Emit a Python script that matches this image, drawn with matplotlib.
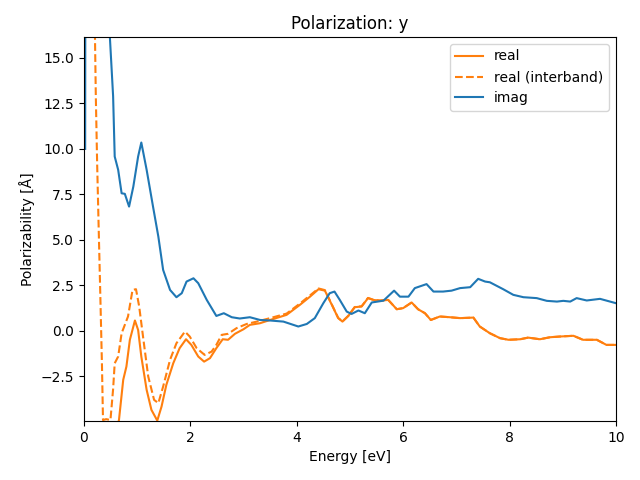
import numpy as np
import matplotlib.pyplot as plt

# values
energy_imag = [0.025, 0.035, 0.45, 0.49, 0.55, 0.58, 0.645, 0.71, 0.77, 0.85, 0.93,
               1.02, 1.08, 1.18, 1.30, 1.40, 1.49, 1.62, 1.74, 1.84, 1.93, 2.06,
               2.15, 2.31, 2.49, 2.63, 2.78, 2.93, 3.12, 3.31, 3.50, 3.75, 4.03,
               4.19, 4.34, 4.50, 4.62, 4.71, 4.81, 4.94, 5.03, 5.16, 5.28, 5.41,
               5.63, 5.83, 5.94, 6.10, 6.22, 6.44, 6.57, 6.75, 6.91, 7.07, 7.26,
               7.41, 7.54, 7.63, 7.88, 8.07, 8.26, 8.51, 8.70, 8.89, 9.01, 9.14,
               9.26, 9.45, 9.70, 10.0]
imag = [10.0, 40.0, 20.0, 16.1, 12.9, 9.58, 8.85, 7.56, 7.53, 6.83, 7.93,
        9.58, 10.35, 8.85, 6.83, 5.18, 3.35, 2.25, 1.85, 2.07, 2.71, 2.89,
        2.62, 1.70, 0.82, 0.97, 0.75, 0.68, 0.75, 0.60, 0.57, 0.51, 0.24,
        0.38, 0.70, 1.52, 2.07, 2.16, 1.70, 1.06, 0.93, 1.12, 0.97, 1.56,
        1.66, 2.21, 1.88, 1.88, 2.35, 2.57, 2.16, 2.16, 2.21, 2.35, 2.40,
        2.86, 2.71, 2.67, 2.29, 1.98, 1.85, 1.80, 1.65, 1.61, 1.65, 1.61,
        1.80, 1.67, 1.76, 1.52]

energy_real = [0.45, 0.55, 0.62, 0.66, 0.74, 0.80, 0.865, 0.96, 1.02, 1.08, 1.18,
               1.27, 1.38, 1.46, 1.55, 1.68, 1.80, 1.92, 2.02, 2.15, 2.26, 2.37,
               2.49, 2.61, 2.71, 2.84, 3.00, 3.12, 3.31, 3.50, 3.81, 4.06, 4.25,
               4.41, 4.53, 4.66, 4.78, 4.86, 4.97, 5.09, 5.22, 5.34, 5.44, 5.56,
               5.72, 5.88, 6.00, 6.16, 6.28, 6.41, 6.52, 6.69, 6.88, 7.07, 7.32,
               7.44, 7.63, 7.82, 7.98, 8.20, 8.35, 8.57, 8.76, 8.95, 9.20, 9.38,
               9.64, 9.82, 10.0]
real = [-9.0, -6.5, -5.3, -4.9, -2.69, -1.96, -0.49, 0.57, 0.05, -1.41, -3.24,
        -4.34, -4.93, -4.16, -2.97, -1.78, -0.95, -0.46, -0.77, -1.41, -1.69, -1.50,
        -0.95, -0.46, -0.49, -0.16, 0.09, 0.33, 0.42, 0.60, 0.88, 1.43, 1.88,
        2.29, 2.21, 1.43, 0.70, 0.51, 0.82, 1.30, 1.34, 1.80, 1.70, 1.66,
        1.70, 1.19, 1.25, 1.56, 1.19, 0.97, 0.60, 0.79, 0.75, 0.70, 0.73,
        0.24, -0.13, -0.40, -0.49, -0.46, -0.37, -0.46, -0.35, -0.31, -0.27, -0.49,
        -0.49, -0.77, -0.77]

energy_inter = [0.18, 0.21, 0.225, 0.25, 0.28, 0.31, 0.34, 0.36, 0.42, 0.50, 0.55,
                0.58, 0.645, 0.71, 0.77, 0.83, 0.915, 0.98, 1.04, 1.12, 1.21, 1.32,
                1.40, 1.49, 1.62, 1.74, 1.90, 1.99, 2.12, 2.27, 2.40, 2.49, 2.59,
                2.71, 2.87, 3.06, 3.25, 3.50, 3.81, 4.06, 4.25, 4.41, 4.53, 4.66,
                4.78, 4.86, 4.97, 5.09, 5.22, 5.34, 5.44, 5.56, 5.72, 5.88, 6.00,
                6.16, 6.28, 6.41, 6.52, 6.69, 6.88, 7.07, 7.32, 7.44, 7.63, 7.82,
                7.98, 8.20, 8.35, 8.57, 8.76, 8.95, 9.20, 9.38, 9.64, 9.82, 10.0]
real_inter = [20.0, 16.0, 12.9, 9.2, 5.5, 1.9, -1.8, -4.9, -4.85, -4.9, -3.2,
              -1.78, -1.41, -0.13, 0.33, 0.79, 2.25, 2.29, 1.34, -0.49, -2.51, -3.79,
              -3.97, -3.06, -1.59, -0.68, -0.04, -0.31, -0.95, -1.32, -1.14, -0.77, -0.22,
              -0.16, 0.15, 0.38, 0.51, 0.70, 0.95, 1.50, 1.95,
              2.33, 2.24, 1.45, 0.71, 0.52, 0.83, 1.31, 1.35, 1.81, 1.71, 1.67,
              1.70, 1.19, 1.25, 1.56, 1.19, 0.97, 0.60, 0.79, 0.75, 0.70, 0.73,
              0.24, -0.13, -0.40, -0.49, -0.46, -0.37, -0.46, -0.35, -0.31, -0.27, -0.49,
              -0.49, -0.77, -0.77]

fig, ax = plt.subplots(figsize=(6.4, 4.8), dpi=100)
ax.plot(energy_real, real, color='C1', label='real')
ax.plot(energy_inter, real_inter, color='C1', linestyle='--', label='real (interband)')
ax.plot(energy_imag, imag, color='C0', label='imag')

ax.set_xlim(0, 10)
ax.set_ylim(-4.95, 16.15)
ax.set_title('Polarization: y')
ax.set_xlabel('Energy [eV]')
ax.set_ylabel('Polarizability [Å]')
ax.legend(loc='upper right')
fig.subplots_adjust(left=0.131, right=0.9625, top=0.923, bottom=0.123)
fig.savefig('out.png')
